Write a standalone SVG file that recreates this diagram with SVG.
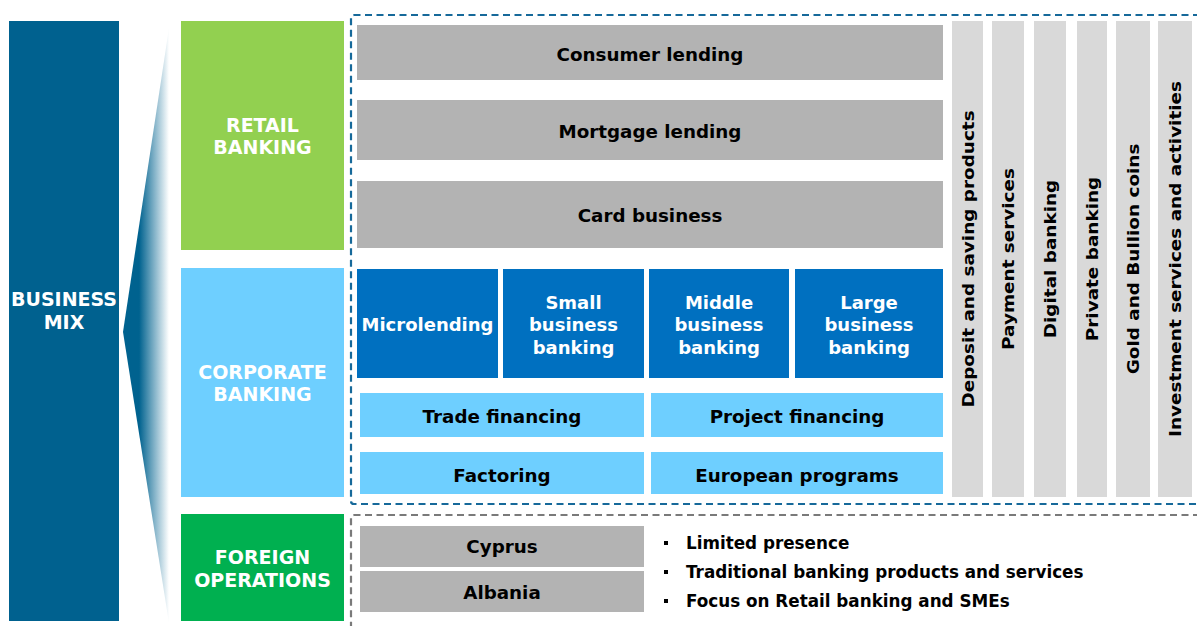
<svg xmlns="http://www.w3.org/2000/svg" width="1197" height="626" viewBox="0 0 1197 626">
<defs>
<linearGradient id="fun" x1="123" y1="0" x2="169" y2="0" gradientUnits="userSpaceOnUse">
<stop offset="0" stop-color="#00628F"/>
<stop offset="0.35" stop-color="#00628F"/>
<stop offset="1" stop-color="#FFFFFF"/>
</linearGradient>
<style>
text{font-family:"DejaVu Sans","Verdana",sans-serif;font-weight:bold;text-anchor:middle}
.w{fill:#FFFFFF;font-size:19px}
.ws{fill:#FFFFFF;font-size:18px}
.k{fill:#000000;font-size:18.3px}
.v{fill:#000000;font-size:16px}
.b{fill:#000000;font-size:16.8px;text-anchor:start}
.gray{fill:#B3B3B3}
.lg{fill:#D9D9D9}
.db{fill:#0070C0}
.lb{fill:#6ECFFF}
</style>
</defs>
<g id="business-mix">
<rect x="9" y="21" width="110" height="600" fill="#00618F"/>
<text class="w" x="64" y="306">BUSINESS</text>
<text class="w" x="64" y="329">MIX</text>
</g>
<g id="funnel">
<polygon points="123,332 169,28 169,623" fill="url(#fun)"/>
</g>
<g id="retail">
<rect x="181" y="21" width="163" height="229" fill="#92D050"/>
<text class="w" x="262.5" y="132">RETAIL</text>
<text class="w" x="262.5" y="154">BANKING</text>
</g>
<g id="corporate">
<rect x="181" y="268" width="163" height="229" fill="#6ECFFF"/>
<text class="w" x="262.5" y="379">CORPORATE</text>
<text class="w" x="262.5" y="401">BANKING</text>
</g>
<g id="foreign">
<rect x="181" y="514" width="163" height="107" fill="#00B050"/>
<text class="w" x="262.5" y="564">FOREIGN</text>
<text class="w" x="262.5" y="587">OPERATIONS</text>
</g>
<g id="frames" fill="none">
<path d="M1200,15 H354 Q351,15 351,18 V501 Q351,504 354,504 H1200" stroke="#16699A" stroke-width="2.2" stroke-dasharray="7,4.5"/>
<path d="M1200,515 H354 Q351,515 351,518 V630" stroke="#7A7A7A" stroke-width="2.2" stroke-dasharray="7,4.5"/>
</g>
<g id="consumer-lending">
<rect class="gray" x="357" y="25" width="586" height="55"/>
<text class="k" x="650" y="61">Consumer lending</text>
</g>
<g id="mortgage-lending">
<rect class="gray" x="357" y="100" width="586" height="60"/>
<text class="k" x="650" y="138">Mortgage lending</text>
</g>
<g id="card-business">
<rect class="gray" x="357" y="181" width="586" height="67"/>
<text class="k" x="650" y="222">Card business</text>
</g>
<g id="microlending">
<rect class="db" x="357" y="269" width="141" height="109"/>
<text class="ws" x="427.5" y="331">Microlending</text>
</g>
<g id="small-business">
<rect class="db" x="503" y="269" width="141" height="109"/>
<text class="ws" x="573.5" y="309">Small</text>
<text class="ws" x="573.5" y="331">business</text>
<text class="ws" x="573.5" y="354">banking</text>
</g>
<g id="middle-business">
<rect class="db" x="649" y="269" width="140" height="109"/>
<text class="ws" x="719" y="309">Middle</text>
<text class="ws" x="719" y="331">business</text>
<text class="ws" x="719" y="354">banking</text>
</g>
<g id="large-business">
<rect class="db" x="795" y="269" width="148" height="109"/>
<text class="ws" x="869" y="309">Large</text>
<text class="ws" x="869" y="331">business</text>
<text class="ws" x="869" y="354">banking</text>
</g>
<g id="trade-financing">
<rect class="lb" x="360" y="393" width="284" height="44"/>
<text class="k" x="502" y="423">Trade financing</text>
</g>
<g id="project-financing">
<rect class="lb" x="651" y="393" width="292" height="44"/>
<text class="k" x="797" y="423">Project financing</text>
</g>
<g id="factoring">
<rect class="lb" x="360" y="452" width="284" height="42"/>
<text class="k" x="502" y="482">Factoring</text>
</g>
<g id="european-programs">
<rect class="lb" x="651" y="452" width="292" height="42"/>
<text class="k" x="797" y="482">European programs</text>
</g>
<g id="deposit">
<rect class="lg" x="952" y="21" width="31" height="476"/>
<text class="v" transform="translate(968,259) rotate(-90) scale(1.15,1)" dominant-baseline="central">Deposit and saving products</text>
</g>
<g id="payment">
<rect class="lg" x="992" y="21" width="32" height="476"/>
<text class="v" transform="translate(1008,259) rotate(-90) scale(1.15,1)" dominant-baseline="central">Payment services</text>
</g>
<g id="digital">
<rect class="lg" x="1034" y="21" width="32" height="476"/>
<text class="v" transform="translate(1050,259) rotate(-90) scale(1.15,1)" dominant-baseline="central">Digital banking</text>
</g>
<g id="private">
<rect class="lg" x="1077" y="21" width="30" height="476"/>
<text class="v" transform="translate(1092,259) rotate(-90) scale(1.15,1)" dominant-baseline="central">Private banking</text>
</g>
<g id="gold">
<rect class="lg" x="1116" y="21" width="34" height="476"/>
<text class="v" transform="translate(1133,259) rotate(-90) scale(1.15,1)" dominant-baseline="central">Gold and Bullion coins</text>
</g>
<g id="investment">
<rect class="lg" x="1158" y="21" width="34" height="476"/>
<text class="v" transform="translate(1175,259) rotate(-90) scale(1.15,1)" dominant-baseline="central">Investment services and activities</text>
</g>
<g id="cyprus">
<rect class="gray" x="360" y="526" width="284" height="41"/>
<text class="k" x="502" y="553">Cyprus</text>
</g>
<g id="albania">
<rect class="gray" x="360" y="571" width="284" height="41"/>
<text class="k" x="502" y="599">Albania</text>
</g>
<g id="bullets">
<rect x="664" y="541" width="4" height="4" fill="#000"/>
<rect x="664" y="570" width="4" height="4" fill="#000"/>
<rect x="664" y="599" width="4" height="4" fill="#000"/>
<text class="b" x="686" y="549">Limited presence</text>
<text class="b" x="686" y="578">Traditional banking products and services</text>
<text class="b" x="686" y="607">Focus on Retail banking and SMEs</text>
</g>
</svg>
